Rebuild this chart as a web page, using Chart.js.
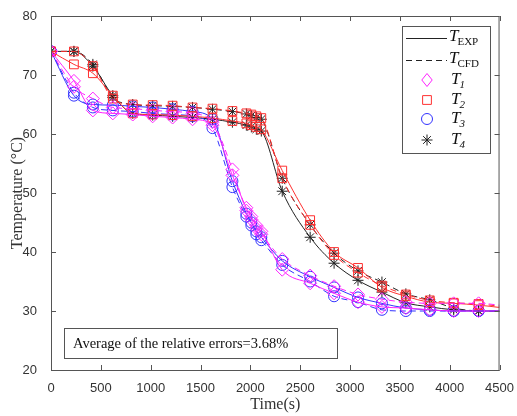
<!DOCTYPE html>
<html>
<head>
<meta charset="utf-8">
<script src="https://cdn.jsdelivr.net/npm/chart.js@4.4.0/dist/chart.umd.min.js"></script>
<style>
  html, body { margin: 0; padding: 0; background: #fff; }
</style>
</head>
<body>
<canvas id="chart" width="517" height="416"></canvas>
<script>
// sample times (s); the last entry only carries the lines to the right edge
const times = [0, 230, 420, 620, 820, 1020, 1220, 1420, 1620, 1820, 1960, 2010, 2060, 2110, 2320, 2600, 2840, 3080, 3320, 3560, 3800, 4040, 4290, 4500];

const t1Exp = [74, 69, 64, 63.5, 63.3, 63, 62.8, 62.5, 61.5, 53, 47.5, 46, 44.5, 43.5, 37, 34.7, 33, 31.5, 30.7, 30.5, 30.2, 30, 30, 30];
const t1Cfd = [74, 68, 66, 64.5, 64.3, 64, 63.8, 63.5, 62, 54, 47, 45.5, 44, 43, 38.8, 36, 34.2, 32.8, 32, 31.5, 31.3, 31.3, 31.3, 31];
const t2Exp = [74, 71.8, 70.3, 66.5, 63.5, 63.3, 63.2, 63, 62.7, 62.2, 61.8, 61.5, 61.2, 60.8, 53.8, 45.4, 40, 37.3, 34, 32.5, 31.5, 31.3, 31, 30.6];
const t2Cfd = [74, 74, 71.5, 66, 65, 64.9, 64.8, 64.5, 64.3, 63.9, 63.5, 63.3, 63, 62.7, 52.5, 44.6, 39.5, 36.5, 34.3, 32.8, 31.8, 31.4, 31.2, 30.8];
const t3Exp = [74, 66.5, 65, 64.9, 64.7, 64.5, 64.2, 63.8, 62.5, 52, 46.5, 45, 43.5, 42.5, 38.5, 35.8, 34, 32.3, 31.3, 30.5, 30.2, 30, 30, 30];
const t3Cfd = [74, 67, 64.5, 64, 63.8, 63.5, 63.3, 63, 61, 51, 46, 44.5, 43, 42, 37.8, 35, 32.5, 31.5, 30.2, 30, 30, 30, 30, 30];
const t4Exp = [74, 74, 71.5, 66.5, 63.5, 63.2, 63, 62.8, 62.5, 62, 61.5, 61.2, 60.8, 60.5, 50.3, 42.5, 38.1, 35.2, 33.2, 31.4, 30.7, 30.2, 30, 30];
const t4Cfd = [74, 74, 71.8, 66.2, 65, 64.8, 64.7, 64.5, 64.2, 63.8, 63.4, 63.1, 62.8, 62.5, 52.5, 44.6, 39.8, 36.8, 34.9, 32.9, 31.9, 30.5, 30, 29.9];

const xTicks = [0, 500, 1000, 1500, 2000, 2500, 3000, 3500, 4000, 4500];
const yTicks = [20, 30, 40, 50, 60, 70, 80];
const errorText = 'Average of the relative errors=3.68%';

const probes = [
    { name: '1', color: '#ff22ff', style: 'rectRot', radius: 6.5, exp: t1Exp, cfd: t1Cfd },
    { name: '2', color: '#ff3030', style: 'rect', radius: 6.2, exp: t2Exp, cfd: t2Cfd },
    { name: '3', color: '#3333ff', style: 'circle', radius: 5.5, exp: t3Exp, cfd: t3Cfd },
    { name: '4', color: '#222222', style: 'star', radius: 5.5, exp: t4Exp, cfd: t4Cfd }
];

function pts(values) {
    return values.map((v, i) => ({ x: times[i], y: v }));
}

const datasets = [];
probes.forEach(p => {
    [['exp', []], ['cfd', [6, 4]]].forEach(([kind, dash]) => {
        datasets.push({
            label: 'T' + p.name + ' ' + kind,
            data: pts(p[kind]),
            borderColor: p.color,
            backgroundColor: 'rgba(0,0,0,0)',
            borderWidth: 1,
            borderDash: dash,
            cubicInterpolationMode: 'monotone',
            pointStyle: p.style,
            pointRadius: ctx => ctx.dataIndex === times.length - 1 ? 0 : p.radius,
            pointBorderWidth: 1,
            pointBorderColor: p.color,
            pointBackgroundColor: 'rgba(0,0,0,0)'
        });
    });
});

// box around the plot with inward ticks, MATLAB style
const framePlugin = {
    id: 'frame',
    afterDatasetsDraw(chart) {
        const { ctx, chartArea: a, scales: { x, y } } = chart;
        ctx.save();
        ctx.strokeStyle = '#555';
        ctx.lineWidth = 1;
        ctx.strokeRect(a.left + 0.5, a.top + 0.5, a.right - a.left - 1, a.bottom - a.top);
        ctx.beginPath();
        xTicks.forEach(t => {
            const px = Math.round(x.getPixelForValue(t)) + 0.5;
            ctx.moveTo(px, a.bottom); ctx.lineTo(px, a.bottom - 5);
            ctx.moveTo(px, a.top); ctx.lineTo(px, a.top + 5);
        });
        yTicks.forEach(t => {
            const py = Math.round(y.getPixelForValue(t)) + 0.5;
            ctx.moveTo(a.left, py); ctx.lineTo(a.left + 5, py);
            ctx.moveTo(a.right, py); ctx.lineTo(a.right - 5, py);
        });
        ctx.stroke();
        ctx.restore();
    }
};

function drawMarker(ctx, style, r, color, cx, cy) {
    ctx.save();
    ctx.strokeStyle = color;
    ctx.lineWidth = 1;
    ctx.beginPath();
    if (style === 'circle') {
        ctx.arc(cx, cy, r, 0, Math.PI * 2);
    } else if (style === 'rect') {
        const s = r * Math.SQRT1_2;
        ctx.rect(cx - s, cy - s, 2 * s, 2 * s);
    } else if (style === 'rectRot') {
        ctx.moveTo(cx, cy - r); ctx.lineTo(cx + r * 0.8, cy);
        ctx.lineTo(cx, cy + r); ctx.lineTo(cx - r * 0.8, cy); ctx.closePath();
    } else {
        for (let k = 0; k < 4; k++) {
            const ang = k * Math.PI / 4;
            ctx.moveTo(cx - r * Math.cos(ang), cy - r * Math.sin(ang));
            ctx.lineTo(cx + r * Math.cos(ang), cy + r * Math.sin(ang));
        }
    }
    ctx.stroke();
    ctx.restore();
}

function drawT(ctx, x, y, sub, subItalic) {
    ctx.font = 'italic 17px "Liberation Serif"';
    ctx.fillStyle = '#111';
    ctx.textBaseline = 'middle';
    ctx.textAlign = 'left';
    ctx.fillText('T', x, y);
    const w = ctx.measureText('T').width;
    ctx.font = (subItalic ? 'italic ' : '') + '11px "Liberation Serif"';
    ctx.fillText(sub, x + w - 1, y + 5);
}

const legendPlugin = {
    id: 'customLegend',
    afterDraw(chart) {
        const ctx = chart.ctx;
        ctx.save();
        ctx.fillStyle = '#fff';
        ctx.fillRect(402, 26, 88, 127);
        ctx.strokeStyle = '#555';
        ctx.lineWidth = 1;
        ctx.strokeRect(402.5, 26.5, 88, 127);

        // T_EXP solid, T_CFD dashed
        ctx.strokeStyle = '#222';
        ctx.beginPath(); ctx.moveTo(406, 38.5); ctx.lineTo(447, 38.5); ctx.stroke();
        ctx.setLineDash([6, 4]);
        ctx.beginPath(); ctx.moveTo(406, 60.5); ctx.lineTo(447, 60.5); ctx.stroke();
        ctx.setLineDash([]);
        drawT(ctx, 449, 37, 'EXP', false);
        drawT(ctx, 449, 59, 'CFD', false);

        const rows = [80, 100, 119, 140];
        probes.forEach((p, i) => {
            drawMarker(ctx, p.style, p.radius, p.color, 427, rows[i]);
            drawT(ctx, 451, rows[i], p.name, true);
        });

        // note box
        ctx.fillStyle = '#fff';
        ctx.fillRect(64, 328, 273, 30);
        ctx.strokeStyle = '#555';
        ctx.strokeRect(64.5, 328.5, 273, 30);
        ctx.fillStyle = '#111';
        ctx.font = '14.5px "Liberation Serif"';
        ctx.textBaseline = 'middle';
        ctx.fillText(errorText, 73, 344);
        ctx.restore();
    }
};

new Chart(document.getElementById('chart'), {
    type: 'line',
    data: { datasets: datasets },
    plugins: [framePlugin, legendPlugin],
    options: {
        responsive: false,
        animation: false,
        layout: { padding: { left: 0, right: 16, top: 16, bottom: 0 } },
        plugins: {
            legend: { display: false },
            tooltip: { enabled: false }
        },
        scales: {
            x: {
                type: 'linear',
                min: 0,
                max: 4500,
                afterFit: s => { s.height = 46; },
                afterBuildTicks: s => { s.ticks = xTicks.map(v => ({ value: v })); },
                grid: { display: false },
                border: { display: false },
                ticks: { color: '#333', padding: 3, maxRotation: 0, callback: v => String(v), font: { family: 'Liberation Sans', size: 13 } },
                title: { display: true, text: 'Time(s)', color: '#333', padding: { top: 0, bottom: 2 }, font: { family: 'Liberation Serif', size: 16 } }
            },
            y: {
                min: 20,
                max: 80,
                afterFit: s => { s.width = 51; },
                afterBuildTicks: s => { s.ticks = yTicks.map(v => ({ value: v })); },
                grid: { display: false },
                border: { display: false },
                ticks: { color: '#333', padding: 6, callback: v => String(v), font: { family: 'Liberation Sans', size: 13 } },
                title: { display: true, text: 'Temperature (°C)', color: '#333', padding: { top: 8, bottom: 0 }, font: { family: 'Liberation Serif', size: 16 } }
            }
        }
    }
});
</script>
</body>
</html>
